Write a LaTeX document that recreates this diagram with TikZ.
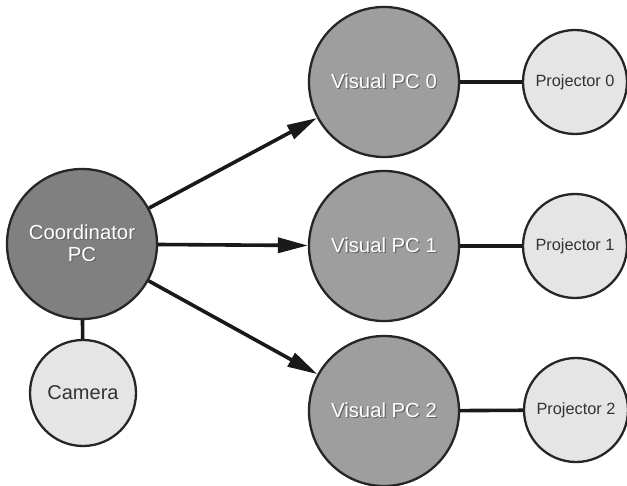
\documentclass[tikz,border=0pt]{standalone}
\usepackage{fontspec}
\setmainfont{Liberation Sans}
\usetikzlibrary{arrows.meta}
\newcommand{\shtext}[1]{\rlap{\hspace{1.2pt}\raisebox{-1.2pt}{\textcolor{black!60}{#1}}}\textcolor{white}{#1}}
\begin{document}
\begin{tikzpicture}[x=1pt,y=-1pt,
  pcbig/.style={circle,draw=black!85,line width=2.3pt,inner sep=0pt,minimum size=150pt,font=\fontsize{20.3}{23}\selectfont,align=center},
  coordstyle/.style={pcbig,fill=black!50},
  visstyle/.style={pcbig,fill=black!38},
  smallstyle/.style={circle,draw=black!85,line width=2.3pt,fill=black!10,inner sep=0pt,minimum size=104pt,text=black!80},
  link/.style={line width=3.6pt,draw=black!90},
  arr/.style={link,-{Triangle[length=30pt,width=15pt]}}]
\useasboundingbox (0,0) rectangle (627,486);
\fill[white] (0,0) rectangle (627,486);
\node[coordstyle] (coord) at (82,244) {\shtext{Coordinator}\\[-1pt]\shtext{PC}};
\node[smallstyle,minimum size=106pt,font=\fontsize{20}{23}\selectfont] (cam) at (83,393) {Camera};
\node[visstyle] (v0) at (384,82) {\shtext{Visual PC 0}};
\node[visstyle] (v1) at (384,246) {\shtext{Visual PC 1}};
\node[visstyle] (v2) at (384,411) {\shtext{Visual PC 2}};
\node[smallstyle,font=\fontsize{16.3}{19}\selectfont] (p0) at (575,82) {Projector 0};
\node[smallstyle,font=\fontsize{16.3}{19}\selectfont] (p1) at (575,246) {Projector 1};
\node[smallstyle,font=\fontsize{16.3}{19}\selectfont] (p2) at (576,410) {Projector 2};
\draw[link] (coord) -- (cam);
\draw[arr] (coord) -- (v0);
\draw[arr] (coord) -- (v1);
\draw[arr] (coord) -- (v2);
\draw[link] (v0) -- (p0);
\draw[link] (v1) -- (p1);
\draw[link] (v2) -- (p2);
\end{tikzpicture}
\end{document}
